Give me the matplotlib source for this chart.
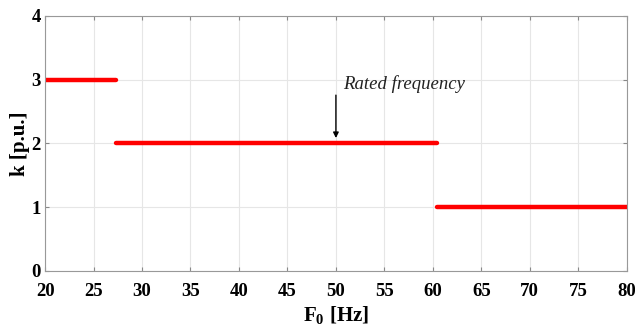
import matplotlib.pyplot as plt

# step segments of k versus F0
seg_start = [20, 27.3, 60.4]
seg_end = [27.3, 60.4, 80]
k_values = [3, 2, 1]

xticks = [20, 25, 30, 35, 40, 45, 50, 55, 60, 65, 70, 75, 80]
yticks = [0, 1, 2, 3, 4]

plt.rcParams['font.family'] = ['Liberation Serif', 'DejaVu Serif']
plt.rcParams['mathtext.fontset'] = 'custom'
plt.rcParams['mathtext.rm'] = 'Liberation Serif:bold'
plt.rcParams['mathtext.bf'] = 'Liberation Serif:bold'

fig = plt.figure(figsize=(6.35, 3.3), dpi=100)
ax = fig.add_axes([0.071, 0.179, 0.916, 0.773])

for x0, x1, k in zip(seg_start, seg_end, k_values):
    ax.plot([x0, x1], [k, k], color='#ff0000', linewidth=3.2, solid_capstyle='round')

ax.annotate('', xy=(50, 2.04), xytext=(50, 2.8),
            arrowprops=dict(arrowstyle='-|>', color='black', lw=1.0, mutation_scale=8))
ax.text(50.7, 2.86, 'Rated frequency', fontsize=13.5, style='italic', color='#222222')

ax.set_xlim(20, 80)
ax.set_ylim(0, 4)
ax.set_xticks(xticks)
ax.set_yticks(yticks)
ax.grid(True, color='#e6e6e6', linewidth=0.8)
ax.set_axisbelow(True)
ax.tick_params(direction='in', top=True, right=True, length=3, color='#888888',
               labelsize=13.5)
ax.tick_params(axis='x', pad=8.5)
ax.tick_params(axis='y', pad=3)
for lbl in ax.get_xticklabels() + ax.get_yticklabels():
    lbl.set_fontweight('bold')
for s in ax.spines.values():
    s.set_color('#999999')
    s.set_linewidth(0.8)

ax.set_xlabel(r'F$_\mathbf{0}$ [Hz]', fontsize=15, fontweight='bold', labelpad=3)
ax.set_ylabel('k [p.u.]', fontsize=15, fontweight='bold', labelpad=1)

fig.savefig('out.png', dpi=100)
